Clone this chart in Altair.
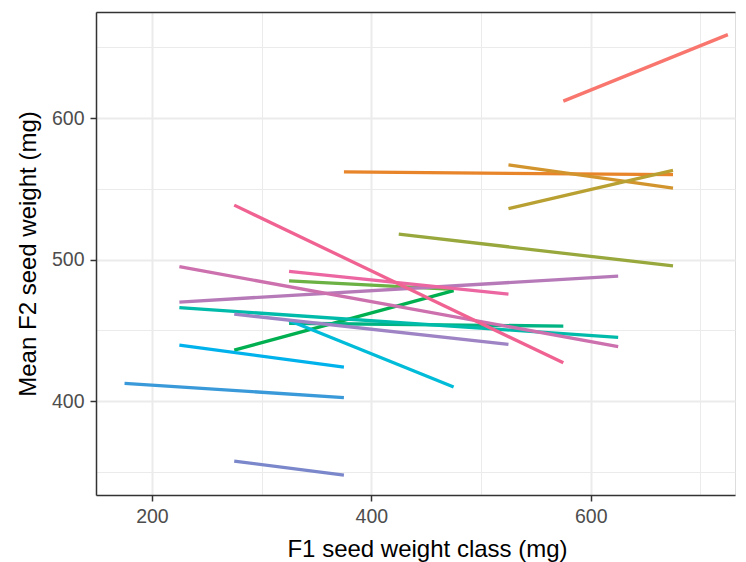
import altair as alt
import pandas as pd

# Segment endpoints (F1 class -> mean F2 weight), one line per group
groups = [f"g{i:02d}" for i in range(1, 19)]
x_start = [575, 375, 525, 525, 425, 325, 275, 325, 225, 325, 225, 175, 275, 275, 225, 225, 325, 275]
x_end   = [725, 675, 675, 675, 675, 475, 475, 575, 625, 475, 375, 375, 375, 525, 625, 625, 525, 575]
y_start = [612, 562, 567, 536, 518, 485, 436, 455, 466, 457, 439.5, 412.5, 357.6, 461.5, 470, 495, 491.7, 538.5]
y_end   = [659, 560, 550.5, 563, 495.5, 479, 478, 453, 445, 410, 424, 402.5, 347.7, 440, 488.3, 438.5, 475.6, 427]
colors  = ["#F8766D", "#E8842A", "#D2952E", "#B9A032", "#98A83C", "#6BB143", "#00B050", "#00B383",
           "#00BBAA", "#00BCD8", "#00B2EC", "#3A9AD9", "#7B87CB", "#9E84C4", "#B77AB9", "#CD70AE",
           "#EC66A2", "#F06292"]

x_ticks = [200, 300, 400, 500, 600, 700]
y_ticks = [350, 400, 450, 500, 550, 600, 650]

rows = []
for g, xs, xe, ys, ye in zip(groups, x_start, x_end, y_start, y_end):
    rows.append({"group": g, "x": xs, "y": ys})
    rows.append({"group": g, "x": xe, "y": ye})
df = pd.DataFrame(rows)

FONT = "Liberation Sans"

x_scale = alt.Scale(domain=[149, 731.5], nice=False, zero=False)
y_scale = alt.Scale(domain=[333.6, 675], nice=False, zero=False)

x_axis = alt.Axis(
    values=x_ticks,
    labelExpr="datum.value % 200 === 0 ? datum.label : ''",
    title="F1 seed weight class (mg)",
    titleX=331,
    grid=True,
    gridColor="#EBEBEB",
    gridWidth={"condition": {"test": "datum.value % 200 === 0", "value": 2}, "value": 1},
    tickOpacity={"condition": {"test": "datum.value % 200 === 0", "value": 1}, "value": 0},
    tickColor="#333333", tickWidth=1.5, tickSize=6,
    domainColor="#333333", domainWidth=1.5,
    labelColor="#4D4D4D", labelFontSize=19.5, labelFont=FONT, labelPadding=6,
    titleColor="#000000", titleFontSize=24, titleFont=FONT, titleFontWeight="normal", titlePadding=12,
)
y_axis = alt.Axis(
    values=y_ticks,
    labelExpr="datum.value % 100 === 0 ? datum.label : ''",
    title="Mean F2 seed weight (mg)",
    grid=True,
    gridColor="#EBEBEB",
    gridWidth={"condition": {"test": "datum.value % 100 === 0", "value": 2}, "value": 1},
    tickOpacity={"condition": {"test": "datum.value % 100 === 0", "value": 1}, "value": 0},
    tickColor="#333333", tickWidth=1.5, tickSize=6,
    domainColor="#333333", domainWidth=1.5,
    labelColor="#4D4D4D", labelFontSize=19.5, labelFont=FONT, labelPadding=6,
    titleColor="#000000", titleFontSize=24, titleFont=FONT, titleFontWeight="normal", titlePadding=11,
)

lines = alt.Chart(df).mark_line(strokeWidth=3.3, strokeCap="butt").encode(
    x=alt.X("x:Q", scale=x_scale, axis=x_axis),
    y=alt.Y("y:Q", scale=y_scale, axis=y_axis),
    color=alt.Color("group:N", scale=alt.Scale(domain=groups, range=colors), legend=None),
    detail="group:N",
)

top_border = alt.Chart(df).mark_line(opacity=0).encode(
    x=alt.X("x:Q", scale=x_scale,
            axis=alt.Axis(orient="top", labels=False, ticks=False, grid=False, title=None,
                          domainColor="#333333", domainWidth=1.5)),
    y=alt.Y("y:Q", scale=y_scale),
    detail="group:N",
)

chart = alt.layer(lines, top_border).resolve_axis(x="independent").properties(
    width=639, height=483,
    padding={"left": 8, "top": 4, "right": 1, "bottom": 0},
).configure_view(stroke=None).configure(background="white")

chart.save("out.html", embed_options={"renderer": "svg", "actions": False})
